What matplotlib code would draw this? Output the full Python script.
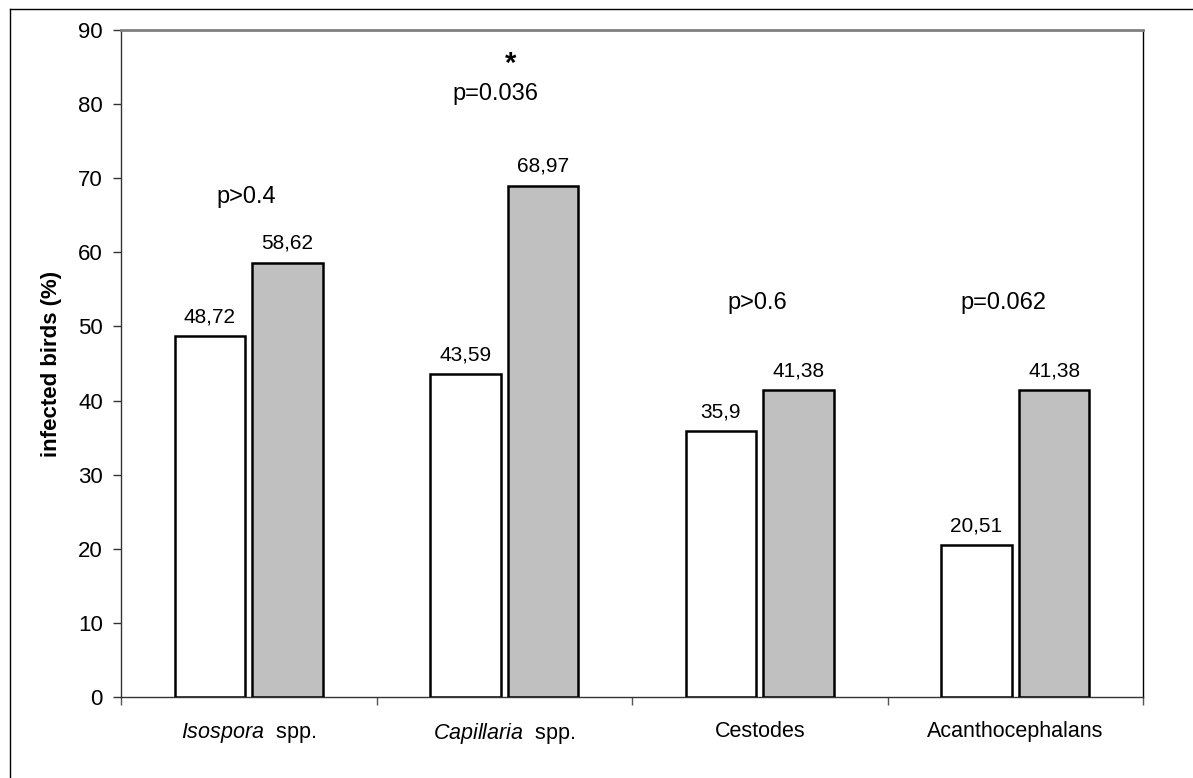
"""Bar chart: share of infected birds per parasite group, two groups compared."""
import matplotlib
matplotlib.use("Agg")
import matplotlib.pyplot as plt
from matplotlib.lines import Line2D
import numpy as np

plt.rcParams["font.family"] = ["Liberation Sans", "DejaVu Sans"]
plt.rcParams["mathtext.fontset"] = "custom"
plt.rcParams["mathtext.rm"] = "Liberation Sans"
plt.rcParams["mathtext.it"] = "Liberation Sans:italic"

categories = [r"$\mathit{Isospora}$  spp.", r"$\mathit{Capillaria}$  spp.",
              "Cestodes", "Acanthocephalans"]
group_a = [48.72, 43.59, 35.9, 20.51]     # white bars
group_b = [58.62, 68.97, 41.38, 41.38]    # grey bars
p_labels = ["p>0.4", "p=0.036", "p>0.6", "p=0.062"]
p_heights = [66.7, 80.6, 52.4, 52.4]
yticks = np.arange(0, 91, 10)

GREY = "#c0c0c0"
W, H = 1193, 778


def fmt(v):
    return f"{v:g}".replace(".", ",")


def main():
    fig = plt.figure(figsize=(W / 100, H / 100), dpi=100)
    ax = fig.add_axes([121 / W, 1 - 697 / H, (1143 - 121) / W, (697 - 30) / H])

    x = np.arange(len(categories))
    width, off = 0.276, 0.152
    bars_a = ax.bar(x - off, group_a, width, color="white", edgecolor="black",
                    linewidth=1.8, zorder=3)
    bars_b = ax.bar(x + off, group_b, width, color=GREY, edgecolor="black",
                    linewidth=1.8, zorder=3)
    for bars, vals in ((bars_a, group_a), (bars_b, group_b)):
        for b, v in zip(bars, vals):
            ax.annotate(fmt(v), (b.get_x() + b.get_width() / 2, v),
                        xytext=(0, 10), textcoords="offset points",
                        ha="center", va="baseline", fontsize=15)

    dx = [-0.01, -0.033, -0.01, -0.045]
    for i, (lab, h) in enumerate(zip(p_labels, p_heights)):
        ax.text(x[i] + dx[i], h, lab, ha="center", va="baseline", fontsize=17)
    # significance star over Capillaria
    ax.text(x[1] + 0.025, 84.4, "*", ha="center", va="baseline",
            fontsize=21, fontweight="bold")

    ax.set_xlim(-0.5, len(categories) - 0.5)
    ax.set_ylim(0, 90)
    ax.set_yticks(yticks)
    ax.tick_params(axis="y", length=6, width=1, labelsize=16, pad=7,
                   color="#333333")
    ax.set_xticks(x)
    ax.set_xticklabels(categories)
    ax.tick_params(axis="x", which="major", length=0, labelsize=15.5, pad=17)
    ax.set_xticks(np.arange(len(categories) + 1) - 0.5, minor=True)
    ax.tick_params(axis="x", which="minor", length=6, width=1, color="#555555")

    ax.set_ylabel("infected birds (%)", fontsize=16, fontweight="bold")
    ax.yaxis.set_label_coords(-0.058, 0.5)

    ax.spines["top"].set_color("#808080")
    ax.spines["top"].set_linewidth(2)
    ax.spines["right"].set_color("black")
    ax.spines["right"].set_linewidth(1)
    for side in ("left", "bottom"):
        ax.spines[side].set_color("#333333")
        ax.spines[side].set_linewidth(1)

    # outer frame, only left and top edges fall inside the image
    fig.add_artist(Line2D([10 / W, 10 / W], [-0.1, 1 - 9 / H], color="black", lw=1))
    fig.add_artist(Line2D([10 / W, 1.1], [1 - 9 / H, 1 - 9 / H], color="black", lw=1))

    fig.savefig("out.png", dpi=100)


if __name__ == "__main__":
    main()
